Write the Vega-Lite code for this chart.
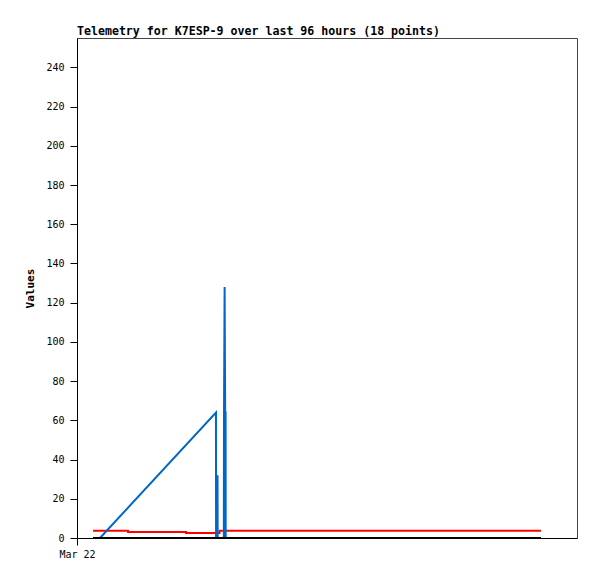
{
  "$schema": "https://vega.github.io/schema/vega-lite/v6.json",
  "width": 500,
  "height": 500,
  "autosize": "none",
  "padding": {"left": 77, "top": 38, "right": 20, "bottom": 41},
  "background": "white",
  "title": {
    "text": "Telemetry for K7ESP-9 over last 96 hours (18 points)",
    "anchor": "start",
    "frame": "group",
    "font": "DejaVu Sans Mono",
    "fontSize": 11.6,
    "fontWeight": "bold",
    "color": "#000000",
    "offset": 0
  },
  "config": {
    "view": {"stroke": "#444444", "strokeWidth": 1},
    "axis": {
      "grid": false,
      "domainColor": "#000000",
      "domainWidth": 1,
      "tickColor": "#000000",
      "tickSize": 7,
      "labelFont": "DejaVu Sans Mono",
      "labelFontSize": 10,
      "labelColor": "#000000",
      "titleFont": "DejaVu Sans Mono",
      "titleFontSize": 11,
      "titleFontWeight": "bold",
      "titleColor": "#000000"
    }
  },
  "datasets": {
    "red": [
      {"hours": 3.42, "value": 3.7},
      {"hours": 10.91, "value": 3.1},
      {"hours": 23.33, "value": 2.6},
      {"hours": 30.5, "value": 3.7},
      {"hours": 99.3, "value": 3.7}
    ],
    "blue": [
      {"hours": 4.92, "value": 0},
      {"hours": 29.74, "value": 64},
      {"hours": 29.76, "value": 0},
      {"hours": 30.05, "value": 0},
      {"hours": 30.07, "value": 32},
      {"hours": 30.1, "value": 0},
      {"hours": 31.42, "value": 0},
      {"hours": 31.46, "value": 64},
      {"hours": 31.59, "value": 128},
      {"hours": 31.71, "value": 64},
      {"hours": 31.8, "value": 64},
      {"hours": 31.82, "value": 0}
    ],
    "black": [
      {"hours": 3.42, "value": 0},
      {"hours": 99.3, "value": 0}
    ]
  },
  "encoding": {
    "x": {
      "field": "hours",
      "type": "quantitative",
      "scale": {"domain": [0, 107], "nice": false, "zero": false},
      "axis": {"values": [0], "labelExpr": "'Mar 22'", "title": null, "labelPadding": 4, "labelFlush": false}
    },
    "y": {
      "field": "value",
      "type": "quantitative",
      "scale": {"domain": [0, 255], "nice": false},
      "axis": {"values": [0, 20, 40, 60, 80, 100, 120, 140, 160, 180, 200, 220, 240], "title": "Values", "labelPadding": 6, "titlePadding": 10}
    }
  },
  "layer": [
    {"data": {"name": "red"}, "mark": {"type": "line", "color": "#ff0000", "strokeWidth": 2, "interpolate": "step-after", "clip": true}},
    {"data": {"name": "blue"}, "mark": {"type": "line", "color": "#0066cc", "strokeWidth": 2, "clip": true}},
    {"data": {"name": "black"}, "mark": {"type": "line", "color": "#000000", "strokeWidth": 2, "clip": true}}
  ]
}
